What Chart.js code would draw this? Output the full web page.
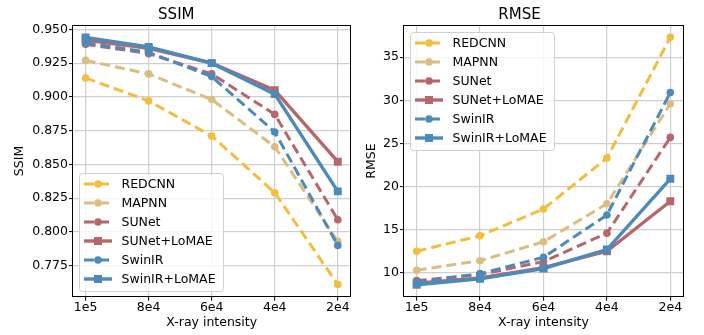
<!DOCTYPE html>
<html>
<head>
<meta charset="utf-8">
<script src="https://cdn.jsdelivr.net/npm/chart.js@4.4.0/dist/chart.umd.min.js"></script>
<style>
  body { margin: 0; background: #fff; }
  #wrap { position: relative; width: 704px; height: 335px; }
  canvas { position: absolute; top: 0; }
  #ssimChart { left: 0; }
  #rmseChart { left: 356px; }
</style>
</head>
<body>
<div id="wrap">
  <canvas id="ssimChart" width="356" height="335"></canvas>
  <canvas id="rmseChart" width="348" height="335"></canvas>
</div>
<script>
// 
// data
// 
const intensity = ['1e5', '8e4', '6e4', '4e4', '2e4'];
const methods = ['REDCNN', 'MAPNN', 'SUNet', 'SUNet+LoMAE', 'SwinIR', 'SwinIR+LoMAE'];

const ssimREDCNN = [0.914, 0.897, 0.871, 0.829, 0.761];
const ssimMAPNN = [0.927, 0.917, 0.898, 0.863, 0.793];
const ssimSUNet = [0.939, 0.932, 0.917, 0.887, 0.809];
const ssimSUNetLoMAE = [0.942, 0.936, 0.925, 0.905, 0.852];
const ssimSwinIR = [0.940, 0.933, 0.915, 0.874, 0.790];
const ssimSwinIRLoMAE = [0.944, 0.937, 0.925, 0.902, 0.830];

const rmseREDCNN = [12.5, 14.3, 17.4, 23.3, 37.3];
const rmseMAPNN = [10.3, 11.4, 13.6, 18.0, 29.6];
const rmseSUNet = [9.1, 9.8, 11.3, 14.6, 25.7];
const rmseSUNetLoMAE = [8.8, 9.4, 10.6, 12.5, 18.3];
const rmseSwinIR = [8.9, 9.9, 11.8, 16.7, 30.9];
const rmseSwinIRLoMAE = [8.6, 9.3, 10.5, 12.7, 20.9];

const ssimTicks = [0.775, 0.800, 0.825, 0.850, 0.875, 0.900, 0.925, 0.950];
const rmseTicks = [10, 15, 20, 25, 30, 35];

// 
// styles
// 
const yellow = '#f4bd3d';
const tan = '#dbbd80';
const rose = '#b7676b';
const blue = '#4b8aba';

Chart.defaults.font.family = 'DejaVu Sans';
Chart.defaults.color = '#000';

function makeSet(label, values, color, dashed, square, i) {
    return {
        label: label,
        data: values.map((v, k) => ({ x: k, y: v })),
        borderColor: color,
        backgroundColor: color,
        borderWidth: square ? 3.4 : 3,
        borderDash: dashed ? [10, 5] : [],
        pointStyle: square ? 'rect' : 'circle',
        pointRadius: square ? 5.6 : 3.8,
        pointHoverRadius: square ? 5.6 : 3.8,
        pointBorderWidth: 0,
        pointBackgroundColor: color,
        tension: 0,
        order: 5 - i
    }
}

// frame + matplotlib-like legend
const mplDeco = {
    id: 'mplDeco',
    afterDatasetsDraw(chart) {
        const { ctx, chartArea: a } = chart;
        ctx.save();
        ctx.strokeStyle = '#000';
        ctx.lineWidth = 1;
        ctx.strokeRect(Math.round(a.left) - 0.5, Math.round(a.top) + 0.5,
            Math.round(a.right) - Math.round(a.left) + 1, Math.round(a.bottom) - Math.round(a.top) - 1);
        ctx.restore();
    },
    afterDraw(chart, args, opts) {
        const ctx = chart.ctx;
        const x = opts.x, y = opts.y;
        ctx.save();
        ctx.fillStyle = 'rgba(255,255,255,0.8)';
        ctx.strokeStyle = '#d0d0d0';
        ctx.lineWidth = 1;
        ctx.beginPath();
        ctx.roundRect(x + 0.5, y + 0.5, 144, 118, 3);
        ctx.fill();
        ctx.stroke();
        ctx.font = '12.5px "DejaVu Sans"';
        ctx.textBaseline = 'middle';
        chart.data.datasets.forEach((ds, i) => {
            const cy = y + 11 + i * 19;
            ctx.strokeStyle = ds.borderColor;
            ctx.lineWidth = ds.borderWidth;
            ctx.setLineDash(ds.borderDash);
            ctx.beginPath();
            ctx.moveTo(x + 5, cy);
            ctx.lineTo(x + 33, cy);
            ctx.stroke();
            ctx.setLineDash([]);
            ctx.fillStyle = ds.borderColor;
            if (ds.pointStyle == 'rect') {
                ctx.fillRect(x + 19 - 4, cy - 4, 8, 8);
            } else {
                ctx.beginPath();
                ctx.arc(x + 19, cy, 3.8, 0, Math.PI * 2);
                ctx.fill();
            }
            ctx.fillStyle = '#000';
            ctx.fillText(ds.label, x + 42.5, cy + 0.5);
        });
        ctx.restore();
    }
};

function makeChart(id, title, yTitle, sets, yMin, yMax, yTicks, yFmt, yWidth, yTitlePad, padRight, legendPos) {
    return new Chart(document.getElementById(id), {
        type: 'line',
        data: { datasets: sets },
        options: {
            responsive: false,
            devicePixelRatio: 1,
            animation: false,
            layout: { padding: { left: 0, right: padRight, top: 0, bottom: 0 } },
            plugins: {
                legend: { display: false },
                tooltip: { enabled: false },
                title: {
                    display: true, text: title, color: '#000',
                    font: { size: 15, weight: 'normal' },
                    padding: { top: 6.3, bottom: 1 }
                },
                mplDeco: legendPos
            },
            scales: {
                x: {
                    type: 'linear', min: -0.2, max: 4.2,
                    afterBuildTicks: s => { s.ticks = intensity.map((t, k) => ({ value: k })) },
                    afterFit: s => { s.height = 38.3 },
                    ticks: { callback: v => intensity[v], font: { size: 12.5 }, padding: 0, maxRotation: 0, color: '#000' },
                    grid: { color: '#cfcfcf', lineWidth: 1.2, tickColor: '#000', tickLength: 4, tickWidth: 1 },
                    border: { display: false },
                    title: { display: true, text: 'X-ray intensity', font: { size: 12.5 }, padding: { top: 0, bottom: 4.5 }, color: '#000' }
                },
                y: {
                    min: yMin, max: yMax,
                    afterBuildTicks: s => { s.ticks = yTicks.map(v => ({ value: v })) },
                    afterFit: s => { s.width = yWidth },
                    ticks: { callback: yFmt, font: { size: 12.5 }, padding: 1, color: '#000' },
                    grid: { color: '#cfcfcf', lineWidth: 1.2, tickColor: '#000', tickLength: 4, tickWidth: 1 },
                    border: { display: false },
                    title: { display: true, text: yTitle, font: { size: 12.5 }, padding: { top: yTitlePad, bottom: 0 }, color: '#000' }
                }
            }
        },
        plugins: [mplDeco]
    });
}

const colors = [yellow, tan, rose, rose, blue, blue];
const dashed = [true, true, true, false, true, false];
const square = [false, false, false, true, false, true];

const ssimValues = [ssimREDCNN, ssimMAPNN, ssimSUNet, ssimSUNetLoMAE, ssimSwinIR, ssimSwinIRLoMAE];
const rmseValues = [rmseREDCNN, rmseMAPNN, rmseSUNet, rmseSUNetLoMAE, rmseSwinIR, rmseSwinIRLoMAE];

const ssimSets = methods.map((m, i) => makeSet(m, ssimValues[i], colors[i], dashed[i], square[i], i));
const rmseSets = methods.map((m, i) => makeSet(m, rmseValues[i], colors[i], dashed[i], square[i], i));

makeChart('ssimChart', 'SSIM', 'SSIM', ssimSets, 0.752, 0.953, ssimTicks, v => v.toFixed(3), 73, 12.5, 3.4, { x: 79, y: 173 });
makeChart('rmseChart', 'RMSE', 'RMSE', rmseSets, 7.23, 38.7, rmseTicks, v => String(v), 48, 8.5, 21, { x: 54, y: 32 });
</script>
</body>
</html>
